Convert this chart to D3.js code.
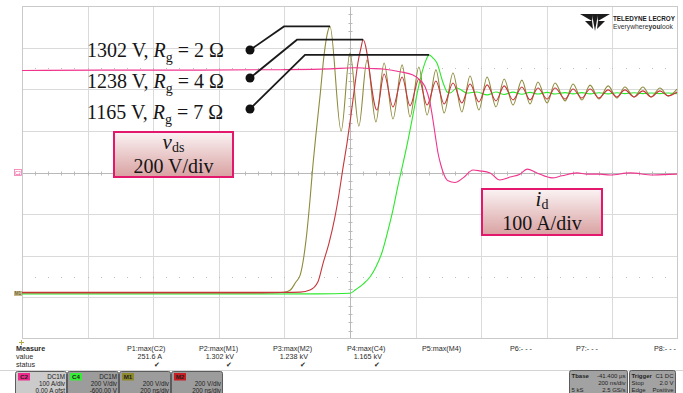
<!DOCTYPE html>
<html><head><meta charset="utf-8">
<script src="https://cdn.jsdelivr.net/npm/d3@7"></script>
<style>
html,body{margin:0;padding:0;background:#fff;}
svg{display:block;font-family:"Liberation Sans",Arial,sans-serif;}
</style></head><body>
<svg id="c" width="683" height="393"></svg>
<script>
// Time in ns relative to the trigger, drain-source voltage in V, drain current in A.
// M1: v_ds with Rg = 2 ohm
const vdsRg2 = [
  [-1000,20],[-600,20],[-300,20],[-244,21],[-201,25],[-183,34],[-165,74],[-152,107],[-134,276],
  [-122,468],[-113,636],[-104,780],[-91,973],[-79,1165],[-70,1261],[-61,1302],
  [-27,799],[0,1174],[27,823],[52,1141],[79,843],[104,1126],[131,857],[159,1117],[183,867],
  [210,1107],[235,876],[262,1093],[287,886],[314,1078],[341,891],[366,1064],[393,900],[418,1059],
  [445,915],[470,1049],[497,924],[524,1044],[549,929],[573,1035],[601,934],[625,1030],[656,944],
  [680,1025],[707,948],[732,1020],[759,953],[787,1016],[814,958],[838,1011],[866,963],[893,1011],
  [918,963],[945,1006],[970,968],[997,1001]
];
// M2: v_ds with Rg = 4 ohm
const vdsRg4 = [
  [-1000,24],[-500,24],[-200,24],[-152,25],[-122,35],[-98,74],[-82,165],[-64,261],[-46,386],
  [-34,492],[-21,626],[-9,742],[3,876],[15,1021],[24,1126],[34,1203],[40,1238],
  [82,900],[104,1073],[131,915],[159,1059],[183,920],[210,1049],[235,924],[262,1040],[287,929],
  [314,1030],[341,934],[366,1025],[393,939],[418,1021],[445,944],[470,1016],[497,949],[524,1011],
  [549,949],[573,1006],[601,953],[625,1006],[656,953],[680,1001],[707,958],[732,1001],[759,958],
  [787,997],[814,963],[838,997],[866,963],[893,992],[918,963],[945,992],[970,968],[997,987]
];
// C4: v_ds with Rg = 7 ohm
const vdsRg7 = [
  [-1000,16],[-500,16],[-100,17],[0,20],[18,38],[40,64],[61,98],[79,146],[98,218],[113,304],
  [131,420],[146,535],[162,646],[177,756],[192,877],[207,997],[220,1083],[232,1141],[241,1165],
  [253,1150],[265,1126],[284,1030],[296,987],[305,982],[326,1006],[357,982],[387,987],
  [418,973],[445,987],[470,975],[497,986],[524,976],[549,985],[573,977],[601,985],[625,977],
  [656,984],[680,978],[707,984],[732,978],[759,983],[787,978],[814,983],[838,979],[866,983],
  [893,979],[918,982],[945,979],[970,982],[997,979]
];
// C2: drain current
const idCurrent = [
  [-1000,245],[-762,246],[-457,246],[-213,247],[-61,249],[15,251.6],[61,250],[107,248],[152,242],
  [192,234],[213,222],[229,206],[244,167],[253,126],[262,78],[268,48],[277,18],[287,-6],[299,-20],
  [320,-24],[345,-13],[375,6],[396,4],[427,-1],[457,-18],[488,-11],[518,-4],[540,8],[570,-1],
  [616,-13],[646,-8],[692,-1],[723,-4],[762,-4],[793,-6],[854,-1],[924,-6],[997,-4]
];

const peakVoltages = [1302, 1238, 1165];
const gateResistors = [2, 4, 7];
const measureNames = ["P1:max(C2)","P2:max(M1)","P3:max(M2)","P4:max(C4)","P5:max(M4)","P6:- - -","P7:- - -","P8:- - -"];
const measureValues = ["251.6 A","1.302 kV","1.238 kV","1.165 kV","","","",""];
const measureStatus = [true,true,true,true,false,false,false,false];
const channelNames = ["C2","C4","M1","M2"];
const channelLines = [["DC1M","100 A/div","0.00 A ofst"],["DC1M","200 V/div","-600.00 V"],["","200 V/div","200 ns/div"],["","200 V/div","200 ns/div"]];

const plot = {left:22, right:678, top:6, bottom:339};
const x = d3.scaleLinear().domain([-1000,1000]).range([plot.left, plot.right]);
const yV = d3.scaleLinear().domain([-200,1400]).range([plot.bottom, plot.top]);
const yI = d3.scaleLinear().domain([-400,400]).range([plot.bottom, plot.top]);
const px = v => Math.round(v) + 0.5;

const svg = d3.select("#c");
const defs = svg.append("defs");
const grad = defs.append("linearGradient").attr("id","boxFill").attr("x1",0).attr("y1",0).attr("x2",0).attr("y2",1);
grad.append("stop").attr("offset","0%").attr("stop-color","#fbf3f4");
grad.append("stop").attr("offset","100%").attr("stop-color","#d9a1a1");
defs.append("clipPath").attr("id","plotClip").append("rect")
  .attr("x",plot.left).attr("y",plot.top).attr("width",plot.right-plot.left).attr("height",plot.bottom-plot.top);

// graticule
const grid = svg.append("g");
grid.selectAll("line.gv").data(d3.range(-800,1000,200)).join("line")
  .attr("x1",d=>px(x(d))).attr("x2",d=>px(x(d))).attr("y1",plot.top).attr("y2",plot.bottom)
  .attr("stroke","#dadada").attr("stroke-width",1);
grid.selectAll("line.gh").data(d3.range(-300,400,100)).join("line")
  .attr("y1",d=>px(yI(d))).attr("y2",d=>px(yI(d))).attr("x1",plot.left).attr("x2",plot.right)
  .attr("stroke","#dadada").attr("stroke-width",1);
// dotted rows at +/- 2.5 div
[250,-250].forEach(lv=>{
  grid.selectAll(null).data(d3.range(-960,1000,40)).join("rect")
    .attr("x",d=>Math.round(x(d))).attr("y",Math.round(yI(lv))).attr("width",1).attr("height",1)
    .attr("fill","#bdbdbd");
});
// centre axes with minor ticks
grid.append("line").attr("x1",plot.left).attr("x2",plot.right).attr("y1",px(yI(0))).attr("y2",px(yI(0))).attr("stroke","#b9b9b9");
grid.append("line").attr("y1",plot.top).attr("y2",plot.bottom).attr("x1",px(x(0))).attr("x2",px(x(0))).attr("stroke","#b9b9b9");
grid.selectAll("line.tx").data(d3.range(-960,1000,40)).join("line")
  .attr("x1",d=>px(x(d))).attr("x2",d=>px(x(d))).attr("y1",px(yI(0))-2).attr("y2",px(yI(0))+2)
  .attr("stroke","#b9b9b9");
grid.selectAll("line.ty").data(d3.range(-380,400,20)).join("line")
  .attr("y1",d=>px(yI(d))).attr("y2",d=>px(yI(d))).attr("x1",px(x(0))-2).attr("x2",px(x(0))+2)
  .attr("stroke","#b9b9b9");
// frame
grid.append("rect").attr("x",plot.left+0.5).attr("y",plot.top+0.5)
  .attr("width",plot.right-plot.left-1).attr("height",plot.bottom-plot.top-1)
  .attr("fill","none").attr("stroke","#cacaca");

// traces
const lineV = d3.line().x(d=>x(d[0])).y(d=>yV(d[1])).curve(d3.curveMonotoneX);
const lineI = d3.line().x(d=>x(d[0])).y(d=>yI(d[1])).curve(d3.curveMonotoneX);
const traces = svg.append("g").attr("clip-path","url(#plotClip)").attr("fill","none").attr("stroke-width",1.1);
traces.append("path").attr("d",lineV(vdsRg7)).attr("stroke","#2be82b");
traces.append("path").attr("d",lineV(vdsRg2)).attr("stroke","#8e8b3c");
traces.append("path").attr("d",lineV(vdsRg4)).attr("stroke","#c6363a");
traces.append("path").attr("d",lineI(idCurrent)).attr("stroke","#f0358d");

// left-side channel markers
const mk = svg.append("g");
mk.append("rect").attr("x",14.5).attr("y",169.5).attr("width",7).attr("height",6).attr("fill","#fff").attr("stroke","#f07ab0").attr("stroke-width",0.8);
mk.append("text").attr("x",18).attr("y",174.5).attr("font-size",4.5).attr("text-anchor","middle").attr("fill","#e8428f").text("C2");
mk.append("rect").attr("x",14).attr("y",291).attr("width",8).attr("height",5).attr("fill","#c9b98a");
mk.append("text").attr("x",18).attr("y",295.3).attr("font-size",4.5).attr("text-anchor","middle").attr("fill","#4a4a20").text("M1");
mk.append("path").attr("d","M19,342.5h5M21.5,340v5").attr("stroke","#b8a640").attr("stroke-width",1);

// peak annotations
const series = [vdsRg2, vdsRg4, vdsRg7];
const dotY = [50, 78, 109];
const kinkX = [284, 297, 305];
const baseY = [57, 88, 119];
const ann = svg.append("g");
series.forEach((s,i)=>{
  const pk = d3.greatest(s, d=>d[1]);
  const ex = x(pk[0]), ey = yV(pk[1]);
  ann.append("polyline")
    .attr("points",`250,${dotY[i]} ${kinkX[i]},${ey} ${ex},${ey}`)
    .attr("fill","none").attr("stroke","#1a1a1a").attr("stroke-width",1.8);
  ann.append("circle").attr("cx",250).attr("cy",dotY[i]).attr("r",4.5).attr("fill","#111");
  const t = ann.append("text").attr("x",87).attr("y",baseY[i])
    .attr("font-family","'Liberation Serif','Times New Roman',serif").attr("font-size",20).attr("fill","#151515");
  t.append("tspan").text(`${peakVoltages[i]} V, `);
  t.append("tspan").attr("font-style","italic").text("R");
  t.append("tspan").attr("font-size",14).attr("dy",5).text("g");
  t.append("tspan").attr("dy",-5).text(` = ${gateResistors[i]} \u03A9`);
});

// scale boxes
function scaleBox(bx, by, bw, bh, sym, sub, scaleText){
  const gb = svg.append("g");
  gb.append("rect").attr("x",bx).attr("y",by).attr("width",bw).attr("height",bh)
    .attr("fill","url(#boxFill)").attr("stroke","#e3186d").attr("stroke-width",2);
  const cx = bx + bw/2;
  const t1 = gb.append("text").attr("x",cx).attr("y",by+17).attr("text-anchor","middle")
    .attr("font-family","'Liberation Serif','Times New Roman',serif").attr("font-size",21).attr("fill","#151515");
  t1.append("tspan").attr("font-style","italic").text(sym);
  t1.append("tspan").attr("font-size",14).attr("dy",3).text(sub);
  gb.append("text").attr("x",cx).attr("y",by+41).attr("text-anchor","middle")
    .attr("font-family","'Liberation Serif','Times New Roman',serif").attr("font-size",20).attr("fill","#151515")
    .text(scaleText);
}
scaleBox(114, 132, 119, 45, "v", "ds", "200 V/div");
scaleBox(482, 189, 120, 46, "i", "d", "100 A/div");

// logo
const logo = svg.append("g").attr("fill","#1c1c1c");
logo.append("polygon").attr("points","580,14 593,14 592,21");
logo.append("polygon").attr("points","597,14 610,14 598,21");
logo.append("polygon").attr("points","592,14 598,14 595,31");
logo.append("polygon").attr("points","585,21 592,21 593,29");
logo.append("polygon").attr("points","598,21 605,21 597,29");
// size the wordmark lines so they fit their width
function fitText(el, width, base){
  el.attr("font-size", base);
  const w = el.node().getComputedTextLength();
  if (w > width) el.attr("font-size", base * width / w);
}
const tw = logo.append("text").attr("x",613).attr("y",21).attr("font-weight","bold").text("TELEDYNE LECROY");
fitText(tw, 62, 8);
const tl = logo.append("text").attr("x",613).attr("y",28.5).attr("fill","#333");
tl.append("tspan").text("Everywhere");
tl.append("tspan").attr("font-weight","bold").text("you");
tl.append("tspan").text("look");
fitText(tl, 60, 7);

// measurement table
const mt = svg.append("g").attr("font-size",7.2).attr("fill","#2a2a2a");
mt.append("text").attr("x",16).attr("y",351).attr("font-weight","bold").text("Measure");
mt.append("text").attr("x",16).attr("y",359).text("value");
mt.append("text").attr("x",16).attr("y",367).text("status");
const colLeft = [127,199,273,347,422,510,576,654];
measureNames.forEach((n,i)=>{
  const c = mt.append("g");
  c.append("text").attr("x",colLeft[i]).attr("y",351).text(n);
  const right = colLeft[i] + 35;
  if(measureValues[i]) c.append("text").attr("x",right).attr("y",359).attr("text-anchor","end").text(measureValues[i]);
  if(measureStatus[i]) c.append("text").attr("x",right-2).attr("y",367).attr("text-anchor","end").attr("font-size",7).text("\u2714");
});
svg.append("line").attr("x1",0).attr("x2",683).attr("y1",370.5).attr("y2",370.5).attr("stroke","#d4d4d4");

// channel descriptors
const chanColor = ["#ee2b8b","#35ee35","#8e8a2c","#c81d22"];
const chanX = [15,67,119,171];
channelNames.forEach((n,i)=>{
  const cg = svg.append("g").attr("font-size",6.3).attr("fill","#222");
  cg.append("rect").attr("x",chanX[i]+0.5).attr("y",371.5).attr("width",51).attr("height",26).attr("rx",2)
    .attr("fill", i===0 ? "#cbcbcb" : "#9c9c9c").attr("stroke","#5c5c5c");
  cg.append("rect").attr("x",chanX[i]+3).attr("y",373).attr("width",12).attr("height",7.5).attr("fill",chanColor[i]);
  cg.append("text").attr("x",chanX[i]+9).attr("y",379.3).attr("text-anchor","middle").attr("font-weight","bold").attr("font-size",6.2).text(n);
  channelLines[i].forEach((s,j)=>{
    if(s) cg.append("text").attr("x",chanX[i]+50).attr("y",379+j*6.8).attr("text-anchor","end").text(s);
  });
});

// timebase and trigger
function infoBox(bx, bw, rows){
  const ig = svg.append("g").attr("font-size",6).attr("fill","#222");
  ig.append("rect").attr("x",bx+0.5).attr("y",370.5).attr("width",bw).attr("height",26).attr("rx",2)
    .attr("fill","#a2a2a2").attr("stroke","#5c5c5c");
  rows.forEach((r,j)=>{
    if(r[0]) ig.append("text").attr("x",bx+2.5).attr("y",377.8+j*7).attr("font-weight", j===0?"bold":"normal").text(r[0]);
    if(r[1]) ig.append("text").attr("x",bx+bw-1.5).attr("y",377.8+j*7).attr("text-anchor","end").text(r[1]);
  });
}
infoBox(569, 58, [["Tbase","-41.400 \u03BCs"],["","200 ns/div"],["5 kS","2.5 GS/s"]]);
infoBox(629, 46, [["Trigger","C1 DC"],["Stop","2.0 V"],["Edge","Positive"]]);
</script>
</body></html>
